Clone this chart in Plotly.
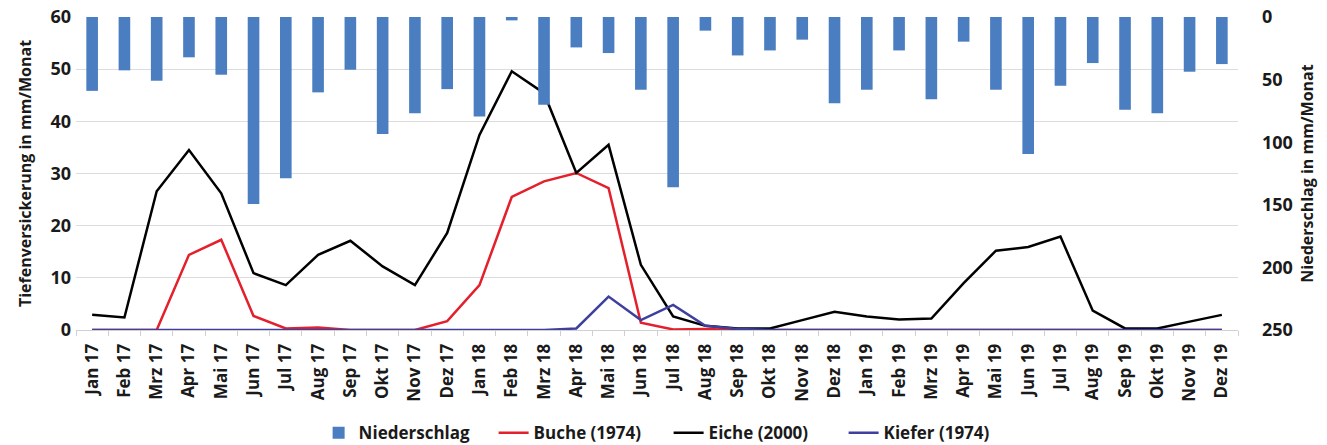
import plotly.graph_objects as go

months = ["Jan 17","Feb 17","Mrz 17","Apr 17","Mai 17","Jun 17","Jul 17","Aug 17","Sep 17","Okt 17","Nov 17","Dez 17",
          "Jan 18","Feb 18","Mrz 18","Apr 18","Mai 18","Jun 18","Jul 18","Aug 18","Sep 18","Okt 18","Nov 18","Dez 18",
          "Jan 19","Feb 19","Mrz 19","Apr 19","Mai 19","Jun 19","Jul 19","Aug 19","Sep 19","Okt 19","Nov 19","Dez 19"]

niederschlag = [59, 42.6, 50.9, 32.2, 46.1, 149.3, 128.7, 60.2, 42.1, 93.5, 76.8, 57.6,
                79.4, 2.7, 70.1, 24.3, 28.8, 58.1, 135.9, 10.9, 30.7, 26.7, 18.1, 68.8,
                58.1, 26.7, 65.6, 19.7, 58.1, 109.5, 54.9, 36.8, 74.1, 76.8, 43.7, 37.6]

buche = [0, 0, 0, 14.4, 17.3, 2.7, 0.3, 0.5, 0, 0, 0, 1.7,
         8.6, 25.5, 28.5, 30.1, 27.2, 1.4, 0.1, 0.2, 0, 0, 0, 0,
         0, 0, 0, 0, 0, 0, 0, 0, 0, 0, 0, 0]

eiche = [2.9, 2.4, 26.6, 34.5, 26.2, 10.9, 8.6, 14.4, 17.1, 12.2, 8.6, 18.6,
         37.4, 49.6, 45.4, 30.1, 35.5, 12.5, 2.6, 0.8, 0.3, 0.3, 1.9, 3.5,
         2.6, 2.0, 2.2, 9.0, 15.2, 15.9, 17.9, 3.7, 0.3, 0.3, 1.6, 2.9]

kiefer = [0]*15 + [0.3, 6.4, 1.9, 4.8, 0.8, 0.2] + [0]*15

left_ticks = [0, 10, 20, 30, 40, 50, 60]
right_ticks = [0, 50, 100, 150, 200, 250]

FONT = "Open Sans"
fig = go.Figure()
fig.add_trace(go.Bar(x=months, y=niederschlag, name="Niederschlag", yaxis="y2",
                     marker=dict(color="#4A7EC1", line=dict(width=0)), width=0.36))
fig.add_trace(go.Scatter(x=months, y=buche, name="Buche (1974)", mode="lines",
                         line=dict(color="#E3202B", width=2.5)))
fig.add_trace(go.Scatter(x=months, y=eiche, name="Eiche (2000)", mode="lines",
                         line=dict(color="#000000", width=2.5)))
fig.add_trace(go.Scatter(x=months, y=kiefer, name="Kiefer (1974)", mode="lines",
                         line=dict(color="#3F3F9E", width=2.5)))

fig.update_layout(
    width=1327, height=445,
    margin=dict(l=76, r=89, t=17, b=115, autoexpand=False),
    paper_bgcolor="white", plot_bgcolor="white",
    font=dict(family=FONT, color="#1a1a1a"),
    showlegend=True,
    legend=dict(orientation="h", x=0.51, xanchor="center", y=-0.33, yanchor="middle",
                font=dict(size=17, family=FONT, weight="bold"), traceorder="normal",
                itemwidth=30, tracegroupgap=0, entrywidthmode="pixels", entrywidth=130),
    xaxis=dict(type="category", tickangle=-90, tickfont=dict(size=17, family=FONT, weight="bold"),
               showgrid=False, showline=True, linecolor="#d0d0d0", linewidth=1,
               ticks="outside", ticklen=5, tickcolor="#d0d0d0", tickson="boundaries",
               ticklabelstandoff=6, range=[-0.5, 35.5]),
    yaxis=dict(range=[0, 60], tickvals=left_ticks, showgrid=True, gridcolor="#dcdcdc", gridwidth=1,
               zeroline=False, tickfont=dict(size=18, family=FONT, weight="bold"), ticklabelstandoff=4,
               title=dict(text="Tiefenversickerung in mm/Monat", font=dict(size=16, family=FONT, weight="bold"),
                          standoff=14)),
    yaxis2=dict(overlaying="y", side="right", range=[250, 0], tickvals=right_ticks, showgrid=False,
                zeroline=False, tickfont=dict(size=18, family=FONT, weight="bold"), ticklabelstandoff=23,
                title=dict(text="Niederschlag in mm/Monat", font=dict(size=16, family=FONT, weight="bold"),
                           standoff=9)),
    bargap=0.6,
)

# remove the default 8px page margin so the figure sits at the window's top-left corner
fig.write_html("out.html", config={"displayModeBar": False},
               post_script="document.body.style.margin='0';document.body.style.overflow='hidden';")
